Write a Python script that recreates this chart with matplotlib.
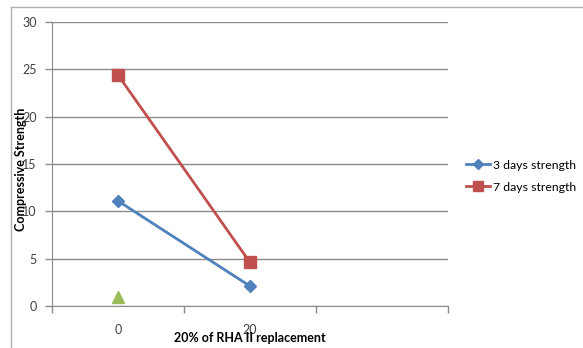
import matplotlib
matplotlib.use("Agg")
import matplotlib.pyplot as plt
from matplotlib.lines import Line2D

plt.rcParams['font.family'] = ['Lato', 'DejaVu Sans']

categories = ["0", "20", ""]
strength_3d = [11.1, 2.1]
strength_7d = [24.4, 4.6]
control = [1.0]

blue = "#4F81BD"
red = "#C0504D"
green = "#9BBB59"
grid_c = "#8C8C8C"
text_c = "#404040"

fig = plt.figure(figsize=(5.83, 3.48), dpi=100)
ax = fig.add_axes([52 / 583, 1 - 306 / 348, 396 / 583, 284 / 348])

x = list(range(len(categories)))
ax.plot(x[:len(strength_3d)], strength_3d, color=blue, lw=2, marker="D",
        ms=6, label="3 days strength", zorder=3)
ax.plot(x[:len(strength_7d)], strength_7d, color=red, lw=2, marker="s",
        ms=8, label="7 days strength", zorder=3)
ax.plot(x[:len(control)], control, color=green, lw=0, marker="^", ms=8,
        zorder=3)

ax.set_xlim(-0.5, len(categories) - 0.5)
ax.set_ylim(0, 30)
ax.set_yticks(range(0, 31, 5))
ax.yaxis.grid(True, color=grid_c, lw=1)
ax.set_axisbelow(True)

ax.set_xticks(x)
ax.set_xticklabels(categories)
ax.set_xticks([i - 0.5 for i in range(len(categories) + 1)], minor=True)
ax.tick_params(axis="x", which="major", length=0, pad=13, labelsize=9,
               labelcolor=text_c)
ax.tick_params(axis="x", which="minor", length=5, color=grid_c, width=1)
ax.tick_params(axis="y", length=5, color=grid_c, width=1, labelsize=9,
               labelcolor=text_c, pad=6)

for s in ["top", "right"]:
    ax.spines[s].set_visible(False)
ax.spines["left"].set_color(grid_c)
ax.spines["bottom"].set_color(grid_c)

ax.set_xlabel("20% of RHA II replacement", fontsize=9, fontweight="bold",
              labelpad=-3)
ax.set_ylabel("Compressive Strength", fontsize=9, fontweight="bold")
ax.yaxis.set_label_coords(-0.062, 0.48)

handles = [Line2D([], [], color=blue, lw=2, marker="D", ms=5),
           Line2D([], [], color=red, lw=2, marker="s", ms=7)]
fig.legend(handles, ["3 days strength", "7 days strength"], loc="center left",
           bbox_to_anchor=(466 / 583, 1 - 176 / 348), frameon=False,
           fontsize=8.8, handlelength=2.0, handletextpad=0.2,
           labelspacing=0.9, borderpad=0, borderaxespad=0)

# chart border
fig.add_artist(Line2D([11 / 583, 11 / 583], [0, 1 - 7 / 348],
                      transform=fig.transFigure, color="#B0B0B0", lw=1))
fig.add_artist(Line2D([11 / 583, 1], [1 - 7 / 348, 1 - 7 / 348],
                      transform=fig.transFigure, color="#B0B0B0", lw=1))

fig.savefig("out.png", dpi=100)
